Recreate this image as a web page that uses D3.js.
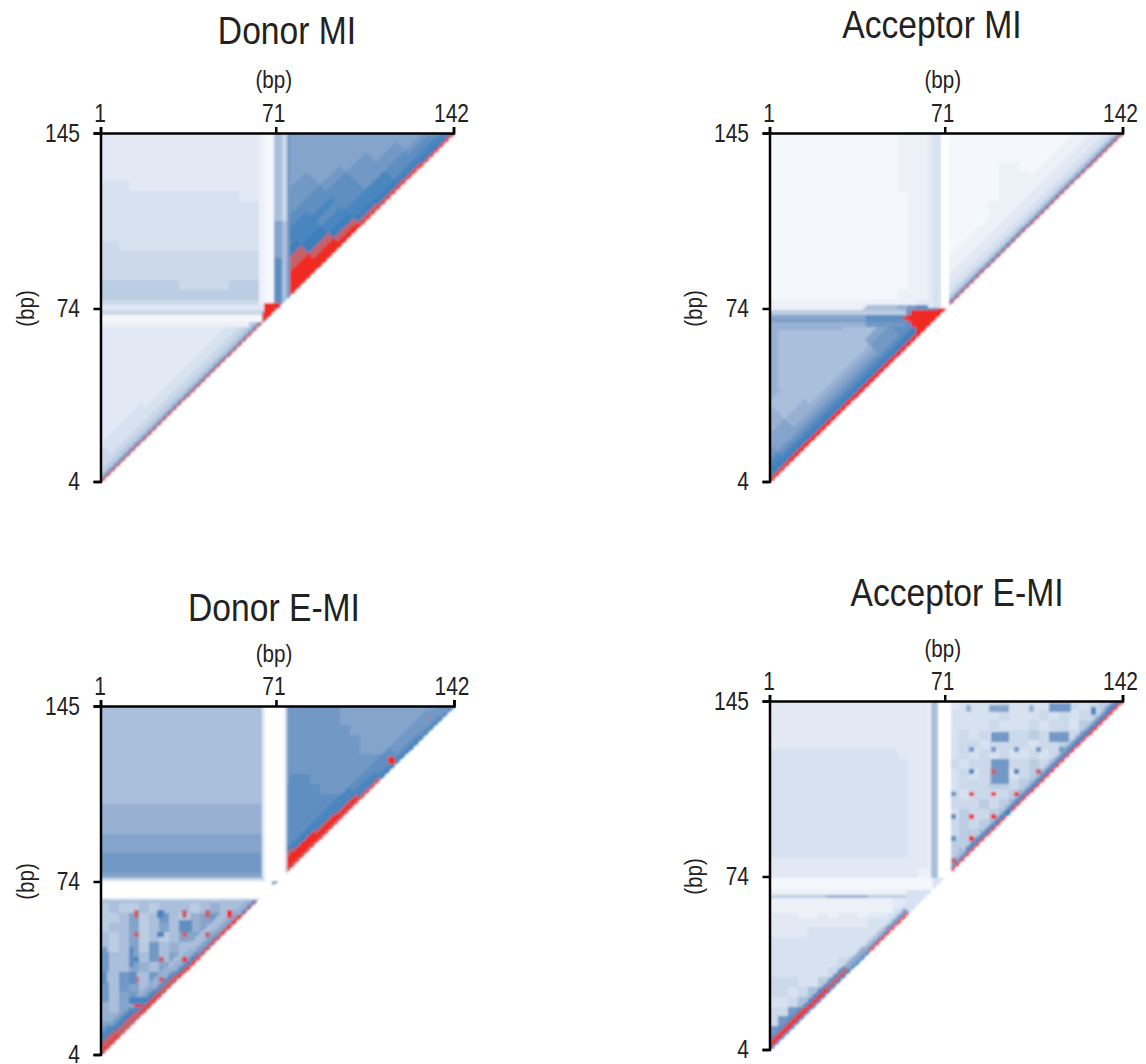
<!DOCTYPE html>
<html>
<head>
<meta charset="utf-8">
<script src="https://cdn.jsdelivr.net/npm/d3@7"></script>
<style>
  html, body { margin: 0; background: #fff; }
  text { font-family: "Liberation Sans", sans-serif; fill: #222; }
  .domain, .tick line { stroke: #000; stroke-width: 2.5px; }
</style>
</head>
<body>
<div id="chart"></div>
<script>
// tick labels, shared by all four maps
var xTicks = [1, 71, 142];
var yTicks = [4, 74, 145];

// mutual information level, 0 (none) to 15 (highest)
var levels = [0, 1, 2, 3, 4, 5, 6, 7, 8, 9, 10, 11, 12, 13, 14, 15];
var levelColors = ["#ffffff", "#f4f7fb", "#ecf1f8", "#e2e9f4", "#d7e2f0", "#cbd9ea", "#bbcde3", "#aabfdb",
  "#98b1d3", "#85a4cb", "#7299c6", "#5f8ec1", "#4a86bf", "#3c7fbb", "#c4626a", "#ee2a24"];

// lower bound of each diagonal row, in bp away from the diagonal
var depthBins = [0, 1, 2, 3, 4, 5, 6, 8, 10, 13, 16, 20, 24, 28, 33, 38, 44, 50, 58];

// coarse grids: one row per 4 bp from y=145 down, one char per 4 bp from x=1
var donorMiGrid = [
  "333333333333333323" + "998888888888889999",
  "333333333333333333" + "99888888888899999",
  "333333333333333333" + "a988888888899999",
  "333333333333333333" + "a99988888999999",
  "333333333333333333" + "a9999999999999",
  "444333333333333333" + "a999999999999",
  "444444444444443333" + "aa9999999999",
  "444444444444444444" + "baaa9999999",
  "444444444444444444" + "baaaa99999",
  "444444444444444444" + "cbbbaaaaa",
  "444444444444444444" + "cbbbbbbb",
  "554444444444444444" + "cbbbbbb",
  "555555555555555555" + "cbbbbb",
  "555555555555555555" + "ccccc",
  "555555555555555555" + "dddd",
  "666666665555566666" + "eee",
  "666666666666666666" + "ee",
  "555555555555555555" + "e",
  "333333333333333335",
  "33333333333333333",
  "3333333333333333",
  "333333333333333",
  "33333333333333",
  "3333333333333",
  "333333333333",
  "33333333333",
  "3333333333",
  "333333333",
  "33333333",
  "3333333",
  "333333",
  "33333",
  "3333",
  "333",
  "33",
  "3"
];
// one string per depth bin, one char per 8 bp along the diagonal, "." keeps the grid value
var donorMiDiag = [
  "eeeeeeeee" + "fffffffff",
  "aaaaaaaaa" + "ffffeeedd",
  "777777777" + "ffffedddc",
  "666666666" + "fffedddcc",
  "666666666" + "fffeddccc",
  "555555555" + "fffedcccb",
  "555555555" + "ffedccbbb",
  "544444444" + "ffedccbba",
  "544444444" + "eedcccbaa",
  "444......" + "eedcbaa99",
  "........." + "edcbbaa99",
  "........." + ".cccba99.",
  "........." + "..cbba99.",
  "........." + "..bba99..",
  "........." + "..aa999..",
  "........." + "...a999..",
  "........." + "...9999..",
  "........." + "...999...",
  "........." + "....9...."
];
// [x from, x to, y from, y to, level]
var donorMiPatches = [
  [67, 70, 76, 145, "1"], [65, 66, 76, 145, "2"],
  [71, 73, 110, 145, "7"], [71, 73, 95, 109, "9"], [71, 73, 76, 94, "b"],
  [74, 75, 110, 145, "5"], [74, 75, 76, 109, "7"], [76, 76, 76, 145, "a"],
  [1, 66, 74, 75, "3"], [1, 66, 72, 73, "5"], [1, 66, 69, 71, "1"], [1, 60, 67, 68, "2"],
  [67, 70, 70, 76, "f"], [71, 72, 75, 76, "f"], [66, 66, 69, 72, "e"]
];

var acceptorMiGrid = [
  "111111111111122221" + "111111111111111111",
  "111111111111122221" + "11111111111111111",
  "111111111111122221" + "1111111111111111",
  "111111111111122221" + "111112211111111",
  "111111111111122221" + "11111222111111",
  "111111111111122221" + "1111122222111",
  "111111111111112221" + "111112222211",
  "111111111111112221" + "11112222222",
  "111111111111112221" + "1111222222",
  "111111111111112221" + "111122222",
  "111111111111112221" + "11122222",
  "111111111111112221" + "1122222",
  "111111111111112221" + "122222",
  "111111111111112221" + "22222",
  "111111111111112221" + "2222",
  "111111111111112221" + "222",
  "111111111111122231" + "22",
  "222222222222222331" + "2",
  "999999999999aabbbb",
  "88888888888888888",
  "8777777777777777",
  "877777777777777",
  "87777777777777",
  "8777777777777",
  "877777777777",
  "87777777777",
  "8877777777",
  "887777777",
  "88877777",
  "8887777",
  "988777",
  "99877",
  "9987",
  "998",
  "99",
  "9"
];
var acceptorMiDiag = [
  "fffffffff" + "eeeeeeeee",
  "effffffff" + "bbbbbbbbb",
  "ddddddddf" + "777777777",
  "ddddddddd" + "666666666",
  "dccccccdd" + "555555555",
  "ccccccccc" + "444444444",
  "cbbbbbbbc" + "444444444",
  "baaaaaabb" + "333333333",
  "a99999abb" + "333333333",
  "a98888aa9" + "222222222",
  ".98777988" + "222222222",
  ".87777778" + ".........",
  ".87777777" + ".........",
  "..7777777" + "........."
];
var acceptorMiPatches = [
  [65, 66, 75, 145, "3"], [67, 69, 75, 145, "4"], [70, 72, 75, 145, "0"],
  [1, 55, 72, 73, "6"], [1, 40, 70, 71, "9"], [1, 40, 69, 69, "a"], [1, 40, 67, 68, "8"],
  [40, 55, 69, 71, "b"], [40, 55, 67, 68, "a"],
  [58, 70, 72, 73, "f"], [56, 70, 71, 71, "f"], [55, 70, 70, 70, "f"], [57, 70, 69, 69, "f"],
  [58, 70, 67, 68, "f"], [60, 70, 64, 66, "f"]
];

var donorEmiGrid = [
  "777777777777777777" + "aaaaaa999999999999",
  "777777777777777777" + "aaaaaa99999999999",
  "777777777777777777" + "aaaaaaa999999999",
  "777777777777777777" + "aaaaaaaa9999999",
  "777777777777777777" + "aaaaaaaa999999",
  "777777777777777777" + "aaaaaaaaaa999",
  "777777777777777777" + "aaaaaaaaaaaa",
  "777777777777777777" + "abbaaaaaaaa",
  "777777777777777777" + "bbbbaaaaaa",
  "777777777777777777" + "bbbbbbbbb",
  "888888888888888888" + "bbbbbbbb",
  "888888888888888888" + "bbbbbbb",
  "888888888888888888" + "bbbbbb",
  "999999999999999999" + "bbbbb",
  "999999999999999999" + "bbbb",
  "aaaaaaaaaaaaaaaaaa" + "bbb",
  "aaaaaaaaaaaaaaaaaa" + "bb",
  "999999999999999999" + "b",
  "777777777777777777",
  "77777777777777777",
  "6766767776787888",
  "667967a7689a98a",
  "67796797889a9a",
  "7679676799a9b",
  "76796a7879ab",
  "a7797a799ab",
  "a779879abc",
  "77a77a9bc",
  "a7a97abc",
  "a79a9bc",
  "8799bc",
  "88abd",
  "9abd",
  "bcd",
  "ce",
  "e"
];
var donorEmiDiag = [
  "eeeefeeee" + "eeeeecdcb",
  "fefeeefc8" + "ffffeccbb",
  "eeeedba87" + "ffffdcbba",
  "eedcb9987" + "fffecbbaa",
  "edcb99887" + "ffedcbaaa",
  "ddb988877" + "ffdccbaaa",
  "cb9887777" + "edccbbaaa",
  "b98877777" + "dcccbbaa."
];
var donorEmiPatches = [
  [66, 66, 75, 145, "3"], [67, 74, 75, 145, "0"], [75, 75, 75, 145, "5"],
  [1, 66, 75, 75, "5"], [1, 70, 68, 74, "0"], [1, 64, 67, 67, "4"], [70, 71, 73, 74, "9"],
  [15, 16, 60, 62, "e"], [24, 26, 60, 62, "c"], [34, 35, 60, 62, "e"], [43, 44, 60, 62, "e"], [52, 53, 60, 62, "f"],
  [15, 16, 52, 53, "e"], [24, 26, 52, 53, "c"], [34, 35, 52, 53, "e"], [43, 44, 52, 53, "e"],
  [15, 16, 42, 43, "c"], [25, 26, 42, 43, "e"], [34, 35, 42, 43, "f"],
  [15, 16, 34, 35, "f"], [25, 26, 34, 35, "e"],
  [15, 17, 24, 25, "f"], [13, 19, 25, 27, "c"],
  [116, 118, 122, 124, "f"], [131, 131, 133, 133, "e"], [132, 132, 140, 140, "e"],
  [13, 14, 40, 47, "b"], [13, 15, 33, 37, "b"], [2, 3, 42, 47, "a"], [1, 3, 33, 37, "b"],
  [33, 37, 54, 58, "b"]
];

var acceptorEmiGrid = [
  "333333333333333322" + "344445444455545665",
  "333333333333333322" + "44444544454545546",
  "333333333333333322" + "4444544454554656",
  "333333333333333322" + "454545556556567",
  "333333333333333322" + "45545555455668",
  "444444444444433322" + "4545454454568",
  "444444444444443322" + "545554556578",
  "444444444444443322" + "45456645669",
  "444444444444443322" + "4555665678",
  "444444444444443322" + "545555688",
  "444444444444443322" + "55565689",
  "444444444444443322" + "4655679",
  "444444444444443322" + "565688",
  "444444444444443322" + "56689",
  "444444444444443322" + "6679",
  "444444444444443322" + "689",
  "333333333333333322" + "79",
  "333333333333333222" + "8",
  "111111111111111111",
  "22222222222222333",
  "3222222222223344",
  "333223233233445",
  "33333333334444",
  "3333444444445",
  "444444444455",
  "44444444456",
  "4444444567",
  "444444567",
  "55544678",
  "5545789",
  "445789",
  "55abc",
  "5abc",
  "abc",
  "cd",
  "f"
];
var acceptorEmiDiag = [
  "ddddcff54" + "fffffffff",
  "fffe9ba44" + "ccdddcddd",
  "fffe98a44" + "9bbbbbbbc",
  "eecb87744" + "7a9999a9a",
  "cccb86544" + "766777878"
];
var acceptorEmiPatches = [
  [66, 68, 74, 145, "7"], [69, 73, 74, 145, "0"], [65, 65, 74, 145, "2"],
  [1, 66, 69, 73, "1"], [1, 60, 66, 66, "6"], [24, 40, 66, 66, "8"], [1, 50, 60, 65, "2"],
  [56, 66, 61, 68, "4"],
  [81, 82, 107, 108, "f"], [90, 91, 107, 108, "f"], [99, 100, 107, 108, "f"],
  [81, 82, 98, 99, "f"], [90, 91, 98, 99, "f"], [81, 82, 89, 90, "f"],
  [90, 96, 112, 121, "a"], [90, 91, 116, 117, "e"], [108, 109, 116, 117, "e"],
  [81, 82, 116, 117, "c"], [99, 100, 116, 117, "c"],
  [81, 82, 125, 126, "a"], [90, 91, 125, 126, "a"], [99, 100, 125, 126, "a"], [108, 109, 125, 126, "a"], [117, 118, 125, 126, "a"],
  [90, 96, 129, 132, "a"], [113, 120, 129, 132, "a"],
  [89, 96, 141, 143, "9"], [113, 121, 141, 144, "a"], [80, 81, 141, 143, "8"], [105, 106, 141, 143, "8"], [130, 131, 140, 142, "c"],
  [74, 75, 107, 108, "b"], [74, 75, 98, 99, "b"], [74, 75, 89, 90, "b"], [74, 75, 80, 81, "e"], [96, 98, 97, 100, "d"]
];

var panels = [
  { title: "Donor MI", grid: donorMiGrid, diag: donorMiDiag, patches: donorMiPatches,
    left: 100.5, right: 453.5, top: 133, bottom: 481.5, titleX: 287, titleY: 44, bpY: 88, yLabelX: 34 },
  { title: "Acceptor MI", grid: acceptorMiGrid, diag: acceptorMiDiag, patches: acceptorMiPatches,
    left: 769.5, right: 1122.5, top: 133, bottom: 481.5, titleX: 932, titleY: 38, bpY: 88, yLabelX: 702 },
  { title: "Donor E-MI", grid: donorEmiGrid, diag: donorEmiDiag, patches: donorEmiPatches,
    left: 100.5, right: 454, top: 706, bottom: 1054.5, titleX: 274, titleY: 621, bpY: 662, yLabelX: 34 },
  { title: "Acceptor E-MI", grid: acceptorEmiGrid, diag: acceptorEmiDiag, patches: acceptorEmiPatches,
    left: 769.5, right: 1122.5, top: 701, bottom: 1049.5, titleX: 957, titleY: 606, bpY: 657, yLabelX: 702 }
];

var svg = d3.select("#chart").append("svg")
  .attr("width", 1146)
  .attr("height", 1064);

var color = d3.scaleLinear().domain(levels).range(levelColors);

// slight softening, the source bitmap is resampled
svg.append("defs").append("filter").attr("id", "soft")
  .attr("x", "-2%").attr("y", "-2%").attr("width", "104%").attr("height", "104%")
  .append("feGaussianBlur").attr("stdDeviation", 0.8);

function levelAt(panel, x, y) {
  var depth = y - x - 3;
  var row = panel.grid[Math.floor((145 - y) / 4)];
  var col = Math.floor((x - 1) / 4);
  var value = col < row.length ? row[col] : row[row.length - 1];
  // the upper left square has no diagonal
  if (!(x < 71 && y > 75)) {
    var diagRow = panel.diag[d3.bisectRight(depthBins, depth) - 1];
    var along = diagRow ? diagRow[Math.floor((x + depth / 2 - 1) / 8)] : null;
    if (along && along !== ".") value = along;
  }
  panel.patches.forEach(function(p) {
    if (x >= p[0] && x <= p[1] && y >= p[2] && y <= p[3]) value = p[4];
  });
  return parseInt(value, 16);
}

panels.forEach(function(panel, i) {
  var xScale = d3.scaleLinear().domain([1, 142]).range([panel.left, panel.right]);
  var yScale = d3.scaleLinear().domain([4, 145]).range([panel.bottom, panel.top]);
  var cellW = xScale(2) - xScale(1);
  var cellH = yScale(4) - yScale(5);

  // lower-left triangle only: y >= x + 3
  var cells = [];
  d3.range(1, 143).forEach(function(x) {
    d3.range(x + 3, 146).forEach(function(y) {
      cells.push({ x: x, y: y, level: levelAt(panel, x, y) });
    });
  });

  svg.append("clipPath").attr("id", "plot" + i).append("rect")
    .attr("x", panel.left).attr("y", panel.top)
    .attr("width", panel.right - panel.left + 2).attr("height", panel.bottom - panel.top);

  svg.append("g").attr("clip-path", "url(#plot" + i + ")")
    .append("g").attr("filter", "url(#soft)").attr("shape-rendering", "crispEdges")
    .selectAll("rect")
    .data(cells)
    .enter()
    .append("rect")
    .attr("x", d => xScale(d.x) - cellW / 2)
    .attr("y", d => yScale(d.y) - cellH / 2)
    .attr("width", cellW + 0.3)
    .attr("height", cellH + 0.3)
    .attr("fill", d => color(d.level));

  var xAxis = d3.axisTop(xScale).tickValues(xTicks).tickFormat(d3.format("d")).tickSizeOuter(0).tickSize(6).tickPadding(5);
  var yAxis = d3.axisLeft(yScale).tickValues(yTicks).tickFormat(d3.format("d")).tickSizeOuter(0).tickSize(7);

  // the labels in the original are a condensed face, so squeeze them
  var xGroup = svg.append("g").attr("transform", `translate(0, ${panel.top})`).call(xAxis);
  xGroup.selectAll("text")
    .style("font-size", "25px")
    .attr("x", (d, k) => [-1, -3, -3][k])
    .attr("transform", "scale(0.84,1)");
  var yGroup = svg.append("g").attr("transform", `translate(${panel.left}, 0)`).call(yAxis);
  yGroup.selectAll("text")
    .style("font-size", "25px")
    .attr("x", -24.4)
    .attr("transform", "scale(0.84,1)");

  svg.append("text")
    .attr("transform", `translate(${panel.titleX},${panel.titleY})scale(0.885,1)`)
    .attr("text-anchor", "middle").style("font-size", "38px")
    .text(panel.title);

  svg.append("text")
    .attr("transform", `translate(${xScale(71) - 2},${panel.bpY})scale(0.86,1)`)
    .attr("text-anchor", "middle").style("font-size", "24px")
    .text("(bp)");

  svg.append("text")
    .attr("transform", `translate(${panel.yLabelX},${yScale(74)})rotate(-90)scale(0.86,1)`)
    .attr("text-anchor", "middle").style("font-size", "24px")
    .text("(bp)");
});
</script>
</body>
</html>
